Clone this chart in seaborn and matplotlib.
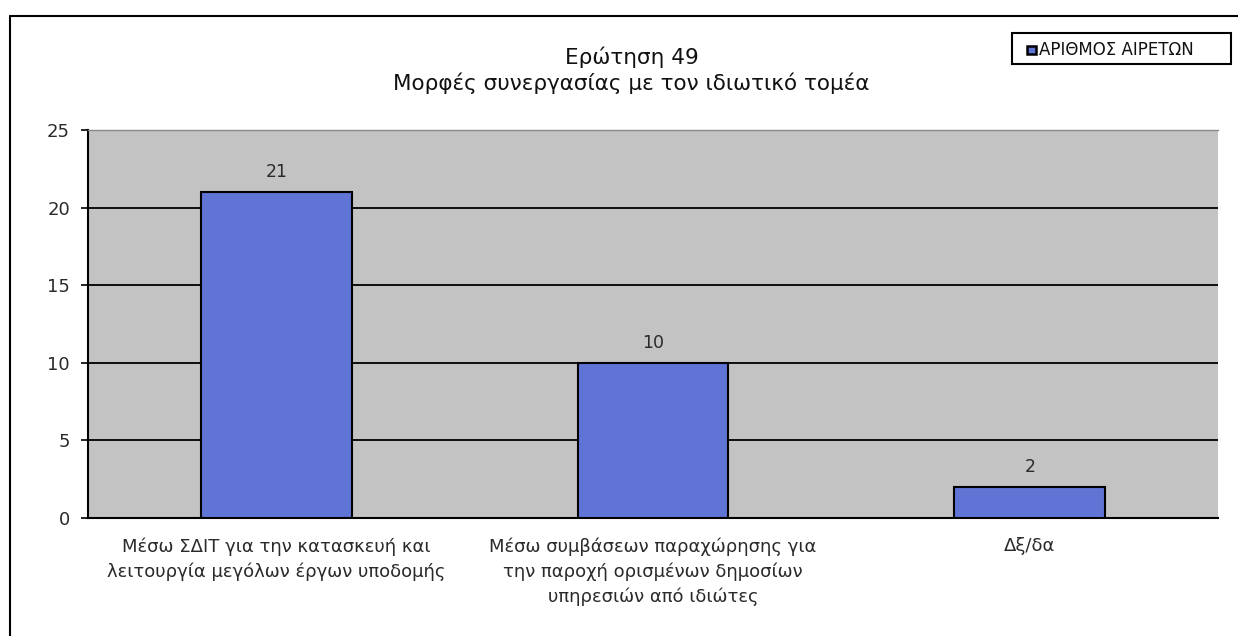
import matplotlib
matplotlib.use('Agg')
import matplotlib.pyplot as plt
import seaborn as sns
import pandas as pd
from matplotlib.lines import Line2D
from matplotlib.patches import Rectangle

categories = [
    'Μέσω ΣΔΙΤ για την κατασκευή και\nλειτουργία μεγόλων έργων υποδομής',
    'Μέσω συμβάσεων παραχώρησης για\nτην παροχή ορισμένων δημοσίων\nυπηρεσιών από ιδιώτες',
    'Δξ/δα',
]
counts = [21, 10, 2]
series_name = 'ΑΡΙΘΜΟΣ ΑΙΡΕΤΩΝ'
y_ticks = [0, 5, 10, 15, 20, 25]

df = pd.DataFrame({'category': categories, 'count': counts})

sns.set_style('white')
plt.rcParams['font.family'] = ['DejaVu Sans']

bar_color = '#5f74d4'
text_color = '#2a2a2a'

fig = plt.figure(figsize=(12.38, 6.36), dpi=100)
ax = fig.add_axes([0.0711, 0.1855, 0.9129, 0.6101])

sns.barplot(data=df, x='category', y='count', color=bar_color,
            width=0.4, edgecolor='black', linewidth=1.5, saturation=1,
            ax=ax, zorder=3)

ax.set_facecolor('#c3c3c3')
ax.set_ylim(0, 25)
ax.set_xlim(-0.5, 2.5)
ax.set_yticks(y_ticks)
ax.set_yticklabels([str(t) for t in y_ticks], fontsize=13, color=text_color)
for t in y_ticks[1:-1]:
    ax.axhline(t, color='black', linewidth=1.3, zorder=1)

ax.set_xlabel('')
ax.set_ylabel('')
ax.set_xticks([-0.5, 0.5, 1.5, 2.5], minor=True)
ax.set_xticks([0, 1, 2])
ax.set_xticklabels(categories, fontsize=13, color=text_color,
                   linespacing=1.45)
ax.tick_params(axis='x', which='major', length=0, pad=14)
ax.tick_params(axis='x', which='minor', length=5, width=1.2, color='black',
               direction='out')
ax.tick_params(axis='y', length=5, width=1.2, color='black',
               direction='out', left=True, pad=8)

for side in ['left', 'bottom']:
    ax.spines[side].set_color('black')
    ax.spines[side].set_linewidth(1.5)
ax.spines['top'].set_color('#888888')
ax.spines['top'].set_linewidth(1.0)
ax.spines['right'].set_visible(False)

for cont in ax.containers:
    ax.bar_label(cont, padding=8, fontsize=12.5, color=text_color)

fig.text(0.51, 1 - 57 / 636, 'Ερώτηση 49', ha='center', va='center',
         fontsize=15.5, color='#111111')
fig.text(0.51, 1 - 83 / 636, 'Μορφές συνεργασίας με τον ιδιωτικό τομέα',
         ha='center', va='center', fontsize=15.5, color='#111111')

# legend box
fig.add_artist(Rectangle((1012 / 1238, 1 - 64 / 636), 219 / 1238, 31 / 636,
                         transform=fig.transFigure, fill=False,
                         edgecolor='black', linewidth=1.5))
fig.add_artist(Rectangle((1027 / 1238, 1 - 54 / 636), 9 / 1238, 8 / 636,
                         transform=fig.transFigure, facecolor=bar_color,
                         edgecolor='black', linewidth=1.8))
fig.text(1039 / 1238, 1 - 50 / 636, series_name, ha='left', va='center',
         fontsize=12, color='#111111')

# outer chart frame
fig.add_artist(Line2D([10 / 1238, 10 / 1238], [0, 1 - 16 / 636],
                      transform=fig.transFigure, color='black', linewidth=1.5))
fig.add_artist(Line2D([10 / 1238, 1], [1 - 16 / 636, 1 - 16 / 636],
                      transform=fig.transFigure, color='black', linewidth=1.5))

fig.savefig('out.png', dpi=100, facecolor='white')
plt.close()
